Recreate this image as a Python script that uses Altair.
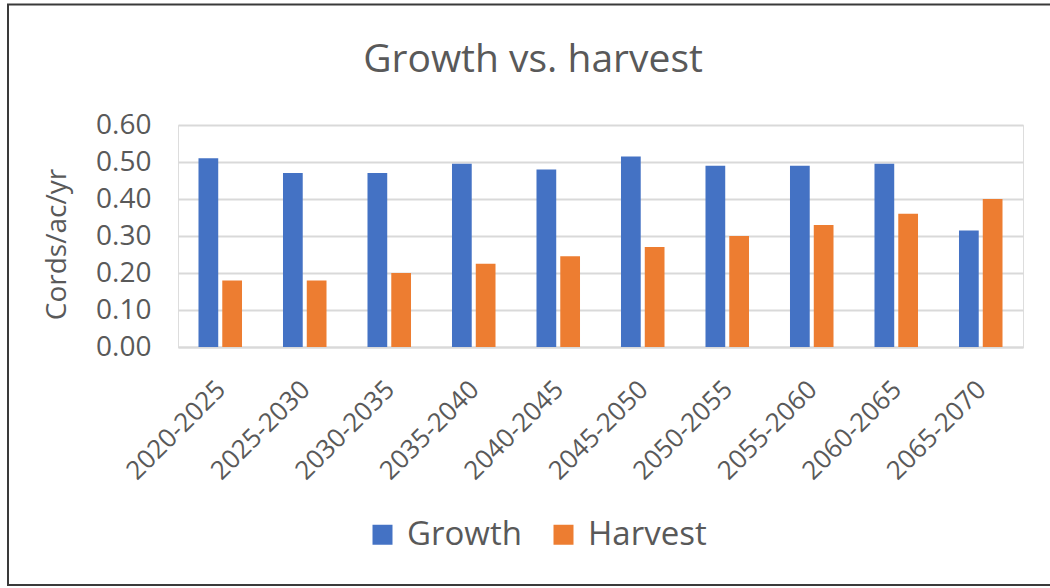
import altair as alt
import pandas as pd

# Average annual growth and harvest per period (cords per acre per year)
periods = ["2020-2025", "2025-2030", "2030-2035", "2035-2040", "2040-2045",
           "2045-2050", "2050-2055", "2055-2060", "2060-2065", "2065-2070"]
growth = [0.51, 0.47, 0.47, 0.495, 0.48, 0.515, 0.49, 0.49, 0.495, 0.315]
harvest = [0.18, 0.18, 0.20, 0.225, 0.245, 0.27, 0.30, 0.33, 0.36, 0.40]
series = ["Growth", "Harvest"]
colors = ["#4472C4", "#ED7D31"]

rows = []
for p, g, h in zip(periods, growth, harvest):
    rows.append({"Period": p, "Series": "Growth", "Value": g})
    rows.append({"Period": p, "Series": "Harvest", "Value": h})
df = pd.DataFrame(rows)

FONT = "Open Sans"
TEXT = "#595959"
GRID = "#D9D9D9"

W, H = 845, 222
LEFT, TOP = 178, 125
FRAME_TOP = 4.5

bars = alt.Chart(df).mark_bar().encode(
    x=alt.X(
        "Period:N",
        sort=periods,
        title=None,
        scale=alt.Scale(paddingInner=0.485, paddingOuter=0.2425),
        axis=alt.Axis(
            labelAngle=-45,
            labelFontSize=26,
            labelColor=TEXT,
            labelFont=FONT,
            labelPadding=29,
            labelOffset=-8,
            ticks=False,
            domainColor=GRID,
            domainWidth=2,
        ),
    ),
    xOffset=alt.XOffset(
        "Series:N",
        sort=series,
        scale=alt.Scale(paddingInner=0.17, paddingOuter=0),
    ),
    y=alt.Y(
        "Value:Q",
        title="Cords/ac/yr",
        scale=alt.Scale(domain=[0, 0.6], nice=False),
        axis=alt.Axis(
            values=[0, 0.1, 0.2, 0.3, 0.4, 0.5, 0.6],
            format=".2f",
            labelFontSize=28,
            labelColor=TEXT,
            labelFont=FONT,
            labelPadding=27,
            ticks=False,
            domain=False,
            gridColor=GRID,
            gridWidth=2,
            titleFont=FONT,
            titleFontSize=28,
            titleFontWeight="normal",
            titleColor=TEXT,
            titleAngle=270,
            titleAlign="center",
            titleBaseline="middle",
            titleX=57 - LEFT,
            titleY=244 - TOP,
        ),
    ),
    color=alt.Color(
        "Series:N",
        sort=series,
        scale=alt.Scale(domain=series, range=colors),
        legend=alt.Legend(
            title=None,
            orient="none",
            direction="horizontal",
            legendX=366 - LEFT,
            legendY=518 - TOP,
            symbolType="square",
            symbolSize=400,
            symbolStrokeWidth=0,
            labelFontSize=33,
            labelFont=FONT,
            labelColor=TEXT,
            labelOffset=8,
            columnPadding=25,
        ),
    ),
)

# Outer frame around the whole figure
frame = alt.Chart(pd.DataFrame({"k": [0]})).mark_rect(
    fill=None, stroke="#3a3a3a", strokeWidth=2, clip=False
).encode(
    x=alt.value(8 - LEFT),
    x2=alt.value(1060 - LEFT),
    y=alt.value(FRAME_TOP - TOP),
    y2=alt.value(585 - TOP),
)

# Title is placed relative to the frame's top edge
TITLE_SHIFT = 107

chart = alt.layer(bars, frame).properties(
    width=W,
    height=H,
    autosize=alt.AutoSizeParams(type="none"),
    padding={"left": LEFT, "top": TOP, "right": 1050 - LEFT - W, "bottom": 588 - TOP - H},
    title=alt.Title(
        "Growth vs. harvest",
        fontSize=39,
        font=FONT,
        fontWeight="normal",
        color=TEXT,
        anchor="middle",
        baseline="alphabetic",
        dx=533 - (LEFT + W / 2),
        offset=-TITLE_SHIFT,
    ),
).configure_view(stroke=None).configure(background="white")

chart.save("out.html", embed_options={"renderer": "svg", "actions": False})
